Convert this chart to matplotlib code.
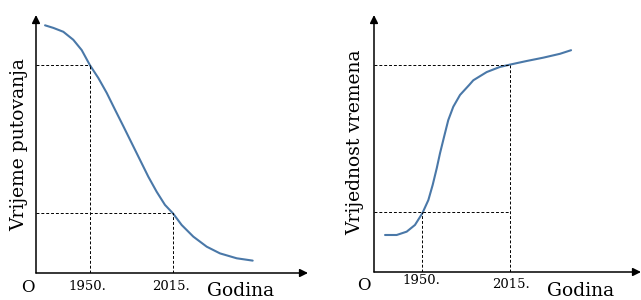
import matplotlib
matplotlib.use("Agg")
import matplotlib.pyplot as plt

# --- data (schematic curves) ---
marked_years = [1950, 2015]

travel_years = [1914.8, 1921.3, 1929.1, 1936.9, 1943.5, 1950.0, 1956.5, 1963.1, 1969.6,
                1976.1, 1982.7, 1989.2, 1995.7, 2002.2, 2008.7, 2015.0, 2021.8, 2030.9,
                2041.4, 2051.8, 2064.9, 2077.4]
travel_time = [96.0, 95.0, 93.5, 90.4, 86.4, 80.5, 75.6, 69.8, 63.3,
               56.9, 50.3, 43.8, 37.3, 31.5, 26.4, 23.1, 18.6, 14.1,
               10.2, 7.6, 5.7, 4.8]
travel_marks = [80.5, 23.1]

value_years = [1922.7, 1931.3, 1938.7, 1944.8, 1950.3, 1954.7, 1957.9, 1960.9, 1963.3,
               1966.3, 1969.4, 1973.1, 1978.1, 1984.9, 1987.9, 1997.8, 2007.6, 2015.0,
               2027.3, 2039.6, 2051.9, 2060.1]
time_value = [14.4, 14.4, 15.7, 18.3, 22.9, 28.0, 33.9, 40.4, 46.2,
              52.6, 59.1, 64.3, 68.9, 72.8, 74.6, 77.8, 79.8, 80.7,
              82.1, 83.4, 84.9, 86.3]
value_marks = [23.2, 80.7]

W, H = 641, 300
fig = plt.figure(figsize=(W / 100, H / 100), dpi=100)
plt.rcParams['font.family'] = ['DejaVu Serif']

line_col = "#4a78a8"
dash = (0, (3, 2))


def make_axes(x0, x1, ytop, ybot, xlim):
    ax = fig.add_axes([x0 / W, 1 - ybot / H, (x1 - x0) / W, (ybot - ytop) / H])
    ax.set_xlim(xlim)
    ax.set_ylim(0, 100)
    ax.axis("off")
    for tip in [(1, 0), (0, 1)]:
        ax.annotate("", xy=tip, xytext=(0, 0), xycoords="axes fraction",
                    arrowprops=dict(arrowstyle="-|>", color="black", lw=1.1,
                                    mutation_scale=12, shrinkA=0, shrinkB=0))
    return ax


# left panel: travel time (origin px 36, 1950 at px 90, 2015 at px 173)
k1 = (173 - 90) / 65
ax1 = make_axes(36, 308, 15, 273, (1950 - 54 / k1, 1950 - 54 / k1 + 272 / k1))
ax1.plot(travel_years, travel_time, color=line_col, lw=1.5, solid_capstyle="round")
for yr, v in zip(marked_years, travel_marks):
    ax1.plot([yr, yr], [0, v], color="black", lw=0.7, ls=dash)
    ax1.plot([ax1.get_xlim()[0], yr], [v, v], color="black", lw=0.7, ls=dash)

# right panel: value of time (origin px 374, 1950 at px 422, 2015 at px 510)
k2 = (510 - 422) / 65
ax2 = make_axes(374, 641, 15, 272, (1950 - 48 / k2, 1950 - 48 / k2 + 267 / k2))
ax2.plot(value_years, time_value, color=line_col, lw=1.5, solid_capstyle="round")
for yr, v in zip(marked_years, value_marks):
    ax2.plot([yr, yr], [0, v], color="black", lw=0.7, ls=dash)
for v in value_marks:
    ax2.plot([ax2.get_xlim()[0], marked_years[1]], [v, v], color="black", lw=0.7, ls=dash)


def txt(x, y, s, size, **kw):
    fig.text(x / W, 1 - y / H, s, fontsize=size, ha="center", va="center", **kw)


txt(28, 288, "O", 12)
txt(87, 286, "1950.", 9.5)
txt(171, 286, "2015.", 9.5)
txt(241, 291, "Godina", 13.5)
txt(19, 145, "Vrijeme putovanja", 13.5, rotation=90)

txt(364, 286, "O", 12)
txt(421, 281, "1950.", 9.5)
txt(511, 284, "2015.", 9.5)
txt(581, 291, "Godina", 13.5)
txt(355, 142, "Vrijednost vremena", 13.5, rotation=90)

fig.savefig("out.png", dpi=100)
